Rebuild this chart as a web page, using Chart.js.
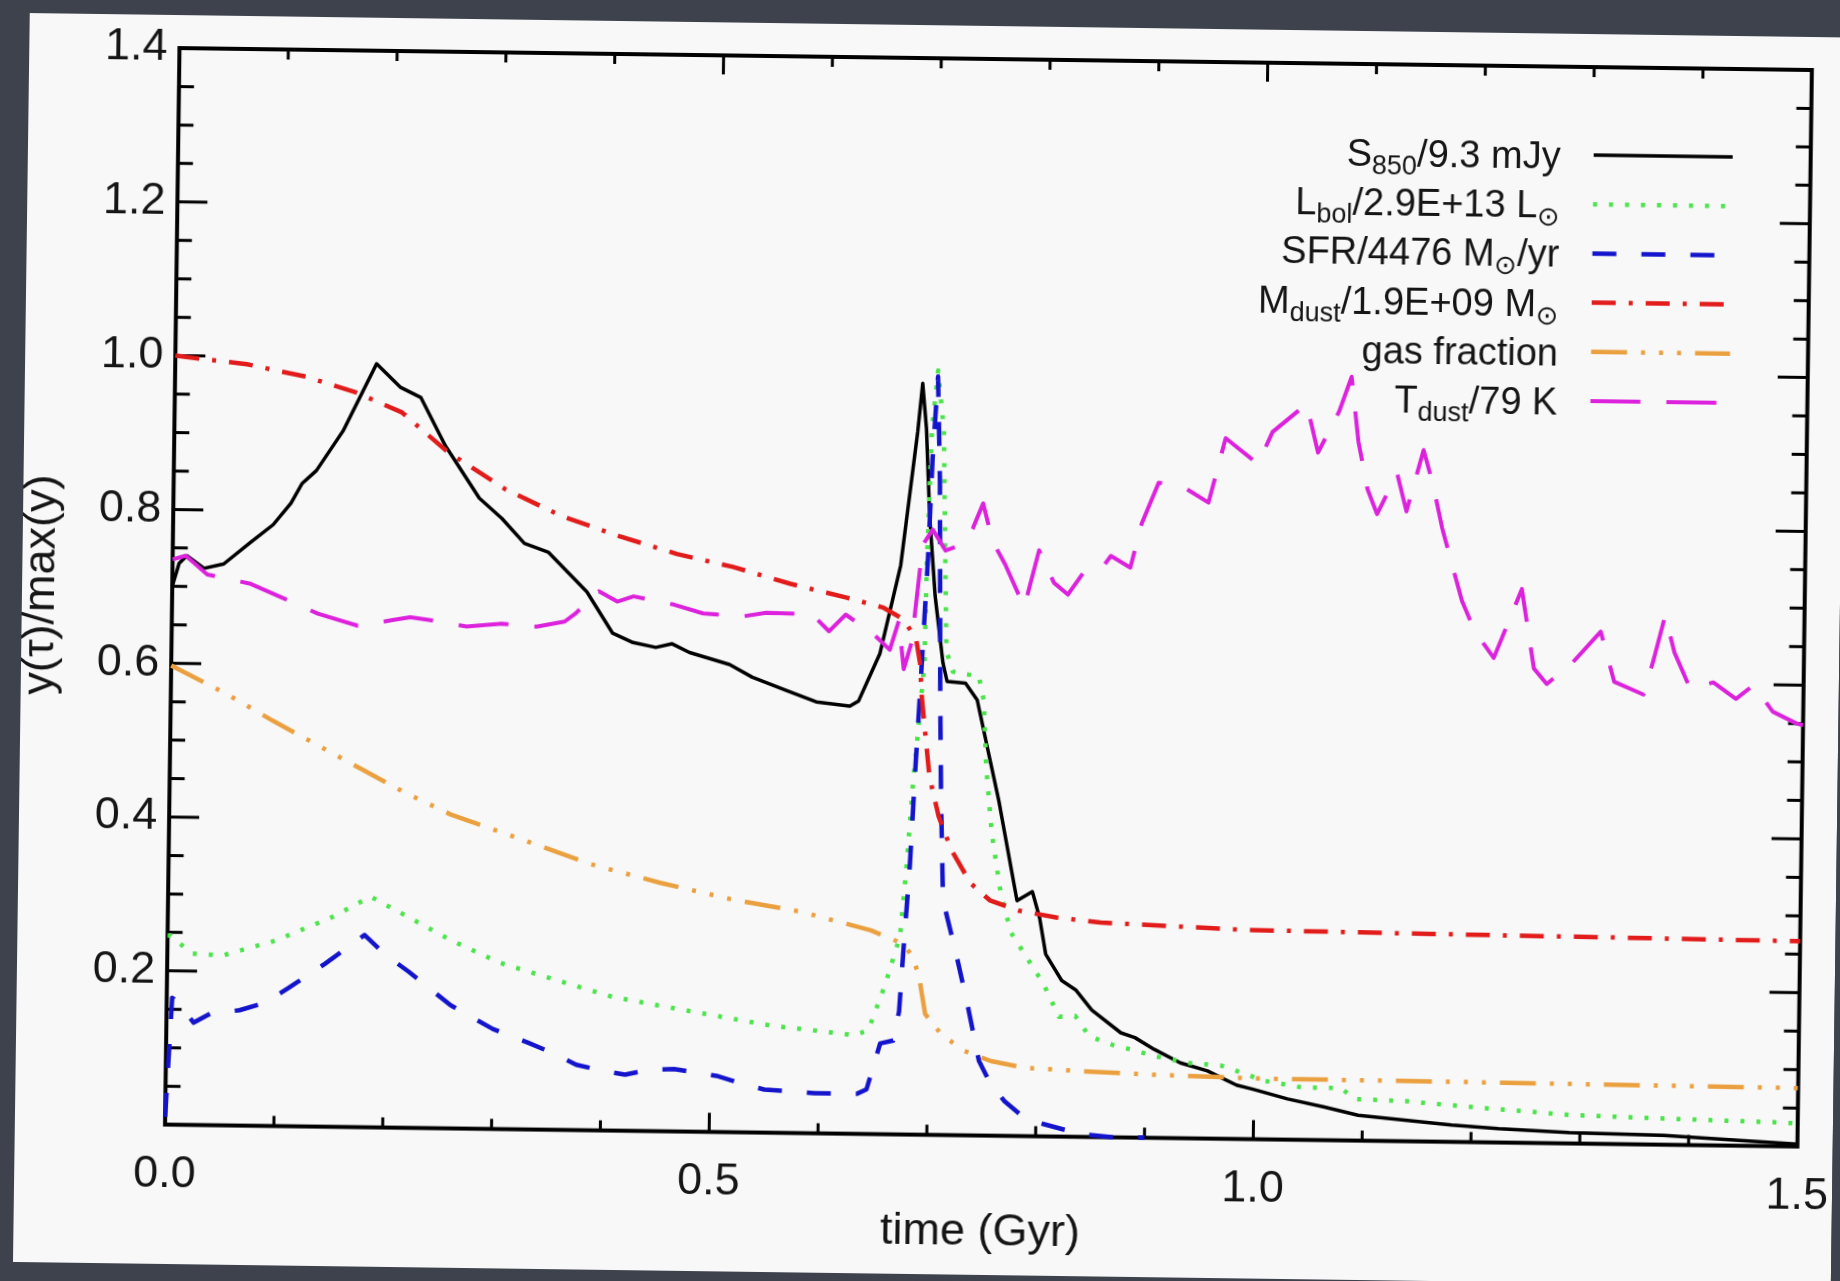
<!DOCTYPE html>
<html>
<head>
<meta charset="utf-8">
<script src="https://cdn.jsdelivr.net/npm/chart.js@4.4.1/dist/chart.umd.min.js"></script>
<style>
  html, body { margin: 0; padding: 0; background: #3e424c; overflow: hidden; }
  #wrap {
    position: absolute; left: 0; top: 0; width: 1840px; height: 1281px;
    transform: rotate(0.77deg); transform-origin: 988.7px 597.3px;
  }
  canvas { display: block; }
</style>
</head>
<body>
<div id="wrap"><canvas id="evo" width="1840" height="1281"></canvas></div>
<script>
// time in Gyr, values normalised to their maximum
const tS850 = [0, 0.006, 0.013, 0.029, 0.047, 0.071, 0.092, 0.108, 0.118, 0.131,
  0.155, 0.185, 0.207, 0.226, 0.249, 0.281, 0.302, 0.323, 0.345, 0.381,
  0.405, 0.424, 0.445, 0.46, 0.476, 0.513, 0.534, 0.566, 0.593, 0.624,
  0.632, 0.651, 0.669, 0.683, 0.687, 0.691, 0.695, 0.701, 0.709, 0.713,
  0.73, 0.741, 0.75, 0.762, 0.78, 0.794, 0.801, 0.807, 0.822, 0.835,
  0.85, 0.877, 0.89, 0.908, 0.932, 0.957, 0.969, 0.984, 0.999, 1.031,
  1.065, 1.096, 1.126, 1.182, 1.225, 1.29, 1.377, 1.42, 1.5];
const yS850 = [0.7, 0.73, 0.74, 0.724, 0.73, 0.758, 0.782, 0.81, 0.836, 0.853,
  0.905, 0.993, 0.963, 0.95, 0.888, 0.82, 0.794, 0.762, 0.751, 0.7,
  0.647, 0.635, 0.629, 0.634, 0.623, 0.608, 0.592, 0.575, 0.561, 0.556,
  0.563, 0.625, 0.74, 0.914, 0.977, 0.918, 0.805, 0.701, 0.614, 0.59,
  0.588, 0.566, 0.51, 0.436, 0.306, 0.318, 0.284, 0.237, 0.203, 0.191,
  0.165, 0.136, 0.13, 0.115, 0.098, 0.088, 0.08, 0.07, 0.065, 0.053,
  0.043, 0.033, 0.029, 0.022, 0.018, 0.014, 0.012, 0.009, 0.003];

const tLbol = [0, 0.003, 0.022, 0.051, 0.099, 0.15, 0.186, 0.221, 0.26, 0.306,
  0.357, 0.409, 0.454, 0.505, 0.557, 0.608, 0.632, 0.645, 0.66, 0.673,
  0.678, 0.683, 0.688, 0.692, 0.693, 0.696, 0.701, 0.707, 0.71, 0.712,
  0.718, 0.724, 0.742, 0.747, 0.75, 0.756, 0.765, 0.775, 0.787, 0.805,
  0.82, 0.835, 0.848, 0.87, 0.888, 0.909, 0.94, 0.97, 1.01, 1.045,
  1.08, 1.093, 1.141, 1.206, 1.292, 1.379, 1.483, 1.5];
const yLbol = [0.246, 0.246, 0.223, 0.221, 0.241, 0.272, 0.3, 0.274, 0.245, 0.216,
  0.195, 0.174, 0.163, 0.151, 0.139, 0.132, 0.128, 0.135, 0.195, 0.258,
  0.348, 0.456, 0.543, 0.613, 0.743, 0.917, 0.994, 0.917, 0.743, 0.63,
  0.603, 0.6, 0.598, 0.566, 0.48, 0.393, 0.315, 0.264, 0.238, 0.199,
  0.156, 0.157, 0.131, 0.12, 0.114, 0.106, 0.098, 0.095, 0.076, 0.068,
  0.068, 0.054, 0.052, 0.045, 0.037, 0.034, 0.031, 0.03];

const tSFR = [0, 0.005, 0.01, 0.025, 0.04, 0.067, 0.09, 0.112, 0.145, 0.181,
  0.2, 0.222, 0.261, 0.3, 0.332, 0.355, 0.377, 0.4, 0.422, 0.445,
  0.467, 0.506, 0.53, 0.55, 0.575, 0.596, 0.635, 0.644, 0.656, 0.668,
  0.673, 0.676, 0.681, 0.685, 0.688, 0.694, 0.697, 0.701, 0.704, 0.707,
  0.709, 0.712, 0.724, 0.735, 0.747, 0.758, 0.771, 0.789, 0.807, 0.84,
  0.87, 0.9];
const ySFR = [0.01, 0.165, 0.16, 0.133, 0.145, 0.15, 0.16, 0.18, 0.212, 0.25,
  0.225, 0.203, 0.16, 0.13, 0.113, 0.1, 0.085, 0.078, 0.073, 0.08,
  0.081, 0.073, 0.063, 0.056, 0.054, 0.052, 0.052, 0.058, 0.118, 0.122,
  0.16, 0.234, 0.347, 0.477, 0.564, 0.75, 0.88, 0.986, 0.85, 0.565,
  0.435, 0.305, 0.24, 0.175, 0.097, 0.067, 0.045, 0.024, 0.016, 0.004,
  0, 0];

const tMdust = [0, 0.066, 0.12, 0.167, 0.209, 0.251, 0.305, 0.357, 0.41, 0.463,
  0.515, 0.568, 0.62, 0.653, 0.672, 0.684, 0.688, 0.69, 0.692, 0.698,
  0.707, 0.719, 0.737, 0.755, 0.782, 0.816, 0.857, 0.99, 1.16, 1.5];
const yMdust = [1.0, 0.99, 0.975, 0.955, 0.93, 0.88, 0.832, 0.798, 0.773, 0.751,
  0.735, 0.714, 0.697, 0.685, 0.67, 0.645, 0.613, 0.569, 0.543, 0.466,
  0.414, 0.371, 0.328, 0.306, 0.293, 0.285, 0.279, 0.272, 0.27, 0.267];

const tGas = [0, 0.05, 0.094, 0.173, 0.216, 0.259, 0.324, 0.388, 0.452, 0.517,
  0.581, 0.646, 0.676, 0.685, 0.691, 0.697, 0.712, 0.733, 0.758, 0.788,
  0.849, 0.91, 1.002, 1.2, 1.5];
const yGas = [0.597, 0.562, 0.527, 0.468, 0.436, 0.408, 0.377, 0.346, 0.323, 0.303,
  0.288, 0.265, 0.248, 0.231, 0.205, 0.157, 0.131, 0.11, 0.097, 0.089,
  0.085, 0.082, 0.079, 0.078, 0.076];

const tTdust = [0, 0.012, 0.032, 0.071, 0.108, 0.134, 0.171, 0.203, 0.219, 0.24,
  0.271, 0.303, 0.335, 0.361, 0.371, 0.392, 0.409, 0.424, 0.461, 0.488,
  0.525, 0.546, 0.588, 0.604, 0.619, 0.645, 0.66, 0.668, 0.673, 0.68,
  0.689, 0.698, 0.71, 0.723, 0.735, 0.744, 0.753, 0.765, 0.783, 0.796,
  0.81, 0.823, 0.84, 0.856, 0.862, 0.88, 0.89, 0.905, 0.93, 0.951,
  0.966, 0.996, 1.009, 1.04, 1.051, 1.07, 1.081, 1.088, 1.097, 1.106,
  1.124, 1.133, 1.142, 1.148, 1.157, 1.166, 1.185, 1.197, 1.215, 1.24,
  1.252, 1.264, 1.286, 1.313, 1.326, 1.353, 1.362, 1.372, 1.381, 1.396,
  1.417, 1.438, 1.454, 1.472, 1.494, 1.5];
const yTdust = [0.735, 0.74, 0.716, 0.705, 0.683, 0.667, 0.652, 0.66, 0.664, 0.66,
  0.653, 0.657, 0.654, 0.661, 0.672, 0.701, 0.688, 0.695, 0.685, 0.674,
  0.671, 0.676, 0.675, 0.653, 0.675, 0.65, 0.63, 0.668, 0.605, 0.64,
  0.767, 0.787, 0.76, 0.767, 0.79, 0.822, 0.773, 0.743, 0.688, 0.762,
  0.72, 0.705, 0.74, 0.744, 0.756, 0.741, 0.799, 0.852, 0.845, 0.827,
  0.911, 0.878, 0.92, 0.957, 0.894, 0.948, 0.993, 0.909, 0.847, 0.815,
  0.868, 0.819, 0.867, 0.899, 0.855, 0.798, 0.704, 0.665, 0.63, 0.72,
  0.617, 0.597, 0.623, 0.666, 0.601, 0.585, 0.631, 0.688, 0.64, 0.593,
  0.602, 0.581, 0.599, 0.565, 0.55, 0.548];

const xTicks = [0, 0.5, 1.0, 1.5];
const xTickLabels = ["0.0", "0.5", "1.0", "1.5"];
const yTicks = [0.2, 0.4, 0.6, 0.8, 1.0, 1.2, 1.4];
const yTickLabels = ["0.2", "0.4", "0.6", "0.8", "1.0", "1.2", "1.4"];

// legend text pieces: [text, isSubscript]
const legendRows = [
  [["S", 0], ["850", 1], ["/9.3 mJy", 0]],
  [["L", 0], ["bol", 1], ["/2.9E+13 L", 0], ["\u2299", 1]],
  [["SFR/4476 M", 0], ["\u2299", 1], ["/yr", 0]],
  [["M", 0], ["dust", 1], ["/1.9E+09 M", 0], ["\u2299", 1]],
  [["gas fraction", 0]],
  [["T", 0], ["dust", 1], ["/79 K", 0]]
];

const FONT = '"Liberation Sans", Arial, "DejaVu Sans", sans-serif';
Chart.defaults.font.family = FONT;
Chart.defaults.color = "#151515";

function pts(ts, ys) {
  return ts.map((t, i) => ({ x: t, y: ys[i] }));
}

const series = [
  { data: pts(tS850, yS850), borderColor: "#000000", borderWidth: 3.5, borderDash: [], order: 5 },
  { data: pts(tLbol, yLbol), borderColor: "#4be44b", borderWidth: 4.5, borderDash: [4, 12], order: 4 },
  { data: pts(tSFR, ySFR), borderColor: "#1414cc", borderWidth: 4.5, borderDash: [24, 25], order: 3 },
  { data: pts(tMdust, yMdust), borderColor: "#e21b1b", borderWidth: 4.5, borderDash: [24, 13, 4, 13], order: 2 },
  { data: pts(tGas, yGas), borderColor: "#eba040", borderWidth: 4.5, borderDash: [36, 14, 4, 14, 4, 14, 4, 14], order: 1 },
  { data: pts(tTdust, yTdust), borderColor: "#dd22dd", borderWidth: 4, borderDash: [50, 26], order: 0 }
];

const framePlugin = {
  id: "frame",
  beforeDraw(chart) {
    const ctx = chart.ctx;
    ctx.save();
    ctx.fillStyle = "#3e424c";
    ctx.fillRect(0, 0, chart.width, chart.height);
    ctx.fillStyle = "#f8f8f8";
    ctx.fillRect(22, 26, chart.width - 22, 1249);
    ctx.restore();
  },
  beforeDatasetsDraw(chart) {
    const ctx = chart.ctx;
    const a = chart.chartArea;
    const xs = chart.scales.x, ys = chart.scales.y;
    ctx.save();
    ctx.strokeStyle = "#000";
    ctx.lineWidth = 4;
    ctx.strokeRect(a.left, a.top, a.right - a.left, a.bottom - a.top);
    ctx.lineWidth = 3;
    ctx.beginPath();
    for (let k = 1; k < 28; k++) {
      const py = ys.getPixelForValue(k * 0.05);
      const len = k % 4 === 0 ? 30 : 15;
      ctx.moveTo(a.left, py); ctx.lineTo(a.left + len, py);
      ctx.moveTo(a.right, py); ctx.lineTo(a.right - len, py);
    }
    for (let k = 1; k < 15; k++) {
      const px = xs.getPixelForValue(k * 0.1);
      const len = k % 5 === 0 ? 19 : 10;
      ctx.moveTo(px, a.bottom); ctx.lineTo(px, a.bottom - len);
      ctx.moveTo(px, a.top); ctx.lineTo(px, a.top + len);
    }
    ctx.stroke();
    ctx.restore();
  },
  afterDatasetsDraw(chart) {
    const ctx = chart.ctx;
    const a = chart.chartArea;
    const mainFont = "38px " + FONT;
    const subFont = "27px " + FONT;
    ctx.save();
    ctx.fillStyle = "#151515";
    ctx.textBaseline = "alphabetic";
    legendRows.forEach((row, i) => {
      const y = a.top + 88 + i * 49.2;
      let w = 0;
      row.forEach(([s, sub]) => { ctx.font = sub ? subFont : mainFont; w += ctx.measureText(s).width; });
      let x = a.right - 250 - w;
      row.forEach(([s, sub]) => {
        ctx.font = sub ? subFont : mainFont;
        ctx.fillText(s, x, y + 14 + (sub ? 8 : 0));
        x += ctx.measureText(s).width;
      });
      const ds = chart.data.datasets[i];
      ctx.strokeStyle = ds.borderColor;
      ctx.lineWidth = ds.borderWidth;
      ctx.setLineDash(ds.borderDash);
      ctx.beginPath();
      ctx.moveTo(a.right - 217, y);
      ctx.lineTo(a.right - 78, y);
      ctx.stroke();
    });
    ctx.restore();
  }
};

new Chart(document.getElementById("evo"), {
  type: "line",
  data: {
    datasets: series.map(s => Object.assign({
      pointRadius: 0,
      tension: 0,
      fill: false,
      clip: false,
      borderJoinStyle: "round"
    }, s))
  },
  options: {
    responsive: false,
    animation: false,
    layout: { padding: { top: 59, right: 35.3, left: 0, bottom: 0 } },
    plugins: { legend: { display: false }, tooltip: { enabled: false } },
    scales: {
      x: {
        type: "linear",
        min: 0,
        max: 1.5,
        afterBuildTicks: s => { s.ticks = xTicks.map(v => ({ value: v })); },
        afterFit: s => { s.height = 145.4; },
        // hidden grid, but its tick length spaces the labels below the axis
        grid: { display: false, drawTicks: true, tickLength: 23 },
        border: { display: false },
        ticks: {
          font: { size: 45 },
          padding: 0,
          maxRotation: 0,
          callback: (v, i) => xTickLabels[i]
        },
        title: {
          display: true,
          text: "time (Gyr)",
          font: { size: 45 },
          padding: { top: 0, bottom: 21 }
        }
      },
      y: {
        min: 0,
        max: 1.4,
        afterBuildTicks: s => { s.ticks = yTicks.map(v => ({ value: v })); },
        afterFit: s => { s.width = 172.2; },
        grid: { display: false, drawTicks: false },
        border: { display: false },
        ticks: {
          font: { size: 45 },
          padding: 12,
          callback: (v, i) => yTickLabels[i]
        },
        title: {
          display: true,
          text: "y(\u03c4)/max(y)",
          font: { size: 45 },
          padding: { top: 15, bottom: 0 }
        }
      }
    }
  },
  plugins: [framePlugin]
});
</script>
</body>
</html>
